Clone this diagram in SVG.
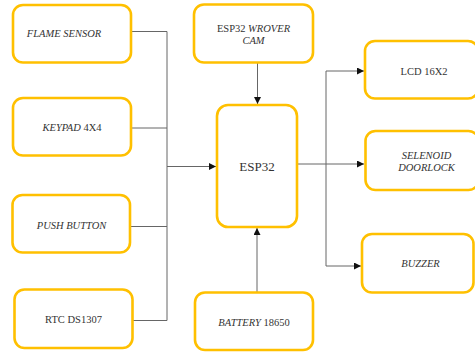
<svg xmlns="http://www.w3.org/2000/svg" width="475" height="353" viewBox="0 0 475 353">
<defs>
<style>
.box{fill:#fff;stroke:#FFC000;stroke-width:2.6}
.t{font-family:"Liberation Serif","Times New Roman",serif;font-size:10.5px;fill:#333;text-anchor:middle}
.i{font-style:italic}
.big{font-size:13px}
.c{fill:none;stroke:#666;stroke-width:1}
</style>
<marker id="ah" viewBox="0 0 10 10" refX="10" refY="5" markerWidth="7" markerHeight="7" markerUnits="userSpaceOnUse" orient="auto">
<path d="M0,0 L10,5 L0,10 z" fill="#111"/>
</marker>
</defs>
<rect width="475" height="353" fill="#fff"/>
<g id="connectors">
<path class="c" d="M131,31.5 H167 V320.5 H132.5"/>
<path class="c" d="M131,128 H167"/>
<path class="c" d="M130,226.5 H167"/>
<path class="c" d="M167,166.5 H216" marker-end="url(#ah)"/>
<path class="c" d="M257.5,63 V104" marker-end="url(#ah)"/>
<path class="c" d="M257,292 V228" marker-end="url(#ah)"/>
<path class="c" d="M297,164 H364" marker-end="url(#ah)"/>
<path class="c" d="M326,266 V71 H364" marker-end="url(#ah)"/>
<path class="c" d="M326,266 H361" marker-end="url(#ah)"/>
</g>
<g id="flame"><rect class="box" x="13" y="5" width="118" height="57.5" rx="10"/><text class="t i" x="64" y="36.5">FLAME SENSOR</text></g>
<g id="keypad"><rect class="box" x="13" y="98" width="118" height="57.5" rx="10"/><text class="t" x="72" y="131"><tspan class="i">KEYPAD</tspan> 4X4</text></g>
<g id="pushbutton"><rect class="box" x="12.5" y="195" width="117.5" height="57.5" rx="10"/><text class="t i" x="71.5" y="229">PUSH BUTTON</text></g>
<g id="rtc"><rect class="box" x="14.5" y="289.5" width="118" height="58.5" rx="10"/><text class="t" x="73.5" y="323">RTC DS1307</text></g>
<g id="cam"><rect class="box" x="194" y="4.5" width="119" height="58" rx="10"/><text class="t" x="253.5" y="31.5">ESP32 <tspan class="i">WROVER</tspan></text><text class="t i" x="253.5" y="43.5">CAM</text></g>
<g id="esp32"><rect class="box" x="217" y="105" width="80" height="122" rx="11"/><text class="t big" x="257" y="171">ESP32</text></g>
<g id="battery"><rect class="box" x="195" y="292.5" width="118" height="57.5" rx="10"/><text class="t" x="254" y="326"><tspan class="i">BATTERY</tspan> 18650</text></g>
<g id="lcd"><rect class="box" x="365" y="41" width="113" height="57.5" rx="10"/><text class="t" x="424" y="75">LCD 16X2</text></g>
<g id="selenoid"><rect class="box" x="365.5" y="131" width="113" height="59" rx="10"/><text class="t i" x="426.5" y="158.5">SELENOID</text><text class="t i" x="426.5" y="171">DOORLOCK</text></g>
<g id="buzzer"><rect class="box" x="362" y="234" width="111.5" height="58.5" rx="10"/><text class="t i" x="420.5" y="267">BUZZER</text></g>
</svg>
